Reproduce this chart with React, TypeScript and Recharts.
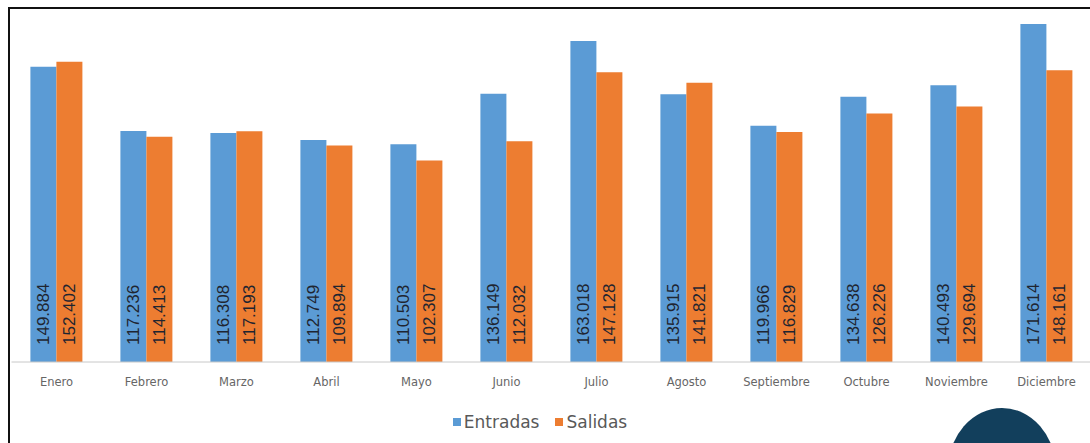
import { BarChart, Bar, XAxis, YAxis, Legend, LabelList } from "recharts";

const MONTHS = ["Enero", "Febrero", "Marzo", "Abril", "Mayo", "Junio", "Julio", "Agosto", "Septiembre", "Octubre", "Noviembre", "Diciembre"];
const ENTRADAS = [149884, 117236, 116308, 112749, 110503, 136149, 163018, 135915, 119966, 134638, 140493, 171614];
const SALIDAS = [152402, 114413, 117193, 109894, 102307, 112032, 147128, 141821, 116829, 126226, 129694, 148161];

const BLUE = "#5B9BD5";
const ORANGE = "#ED7D31";

const data = MONTHS.map((m, i) => ({ month: m, entradas: ENTRADAS[i], salidas: SALIDAS[i] }));

const fmt = (v: number) => String(v).replace(/\B(?=(\d{3})+(?!\d))/g, ".");

function VLabel(props: any) {
  const { x, y, width, height, value } = props;
  const cx = x + width / 2;
  const by = y + height - 17;
  return (
    <text x={cx} y={by} transform={`rotate(-90 ${cx} ${by})`} textAnchor="start" dominantBaseline="central"
      fontFamily="'Liberation Sans', Arial, sans-serif" fontSize={17} fill="#1f2530">
      {fmt(value)}
    </text>
  );
}

function LegendBox() {
  const items = [{ name: "Entradas", color: BLUE }, { name: "Salidas", color: ORANGE }];
  return (
    <div style={{ display: "flex", justifyContent: "center", gap: 16, fontFamily: "'DejaVu Sans', sans-serif", fontSize: 17, color: "#595959" }}>
      {items.map((it) => (
        <span key={it.name} style={{ display: "flex", alignItems: "center", gap: 3 }}>
          <span style={{ width: 8, height: 8, background: it.color, display: "inline-block" }} />
          {it.name}
        </span>
      ))}
    </div>
  );
}

export default function App() {
  return (
    <div style={{ position: "absolute", left: 0, top: 0, width: 1090, height: 443, overflow: "hidden", background: "#fff" }}>
      <div style={{ position: "absolute", left: 8, top: 7, width: 1200, height: 600, borderTop: "2px solid #111", borderLeft: "2px solid #111" }} />
      <div style={{ position: "absolute", left: 948, top: 408, width: 108, height: 124, borderRadius: "50%", background: "#123f5c" }} />
      <div style={{ position: "absolute", left: 0, top: 0 }}>
        <BarChart width={1100} height={443} data={data} margin={{ top: 24, right: 8.5, left: 11.5, bottom: 61 }} barCategoryGap="21%" barGap={0}>
          <XAxis dataKey="month" height={20} tickLine={false} axisLine={{ stroke: "#c8c8c8" }} tickMargin={10}
            tick={{ fill: "#666", fontSize: 11.5, fontFamily: "'DejaVu Sans', sans-serif" }} interval={0} />
          <YAxis hide domain={[0, "dataMax"]} />
          <Legend layout="horizontal" verticalAlign="middle" align="center" content={<LegendBox />}
            wrapperStyle={{ position: "absolute", top: 412, left: 0, bottom: "auto", width: 1080 }} />
          <Bar dataKey="entradas" name="Entradas" fill={BLUE} isAnimationActive={false}>
            <LabelList dataKey="entradas" content={<VLabel />} />
          </Bar>
          <Bar dataKey="salidas" name="Salidas" fill={ORANGE} isAnimationActive={false}>
            <LabelList dataKey="salidas" content={<VLabel />} />
          </Bar>
        </BarChart>
      </div>
    </div>
  );
}
